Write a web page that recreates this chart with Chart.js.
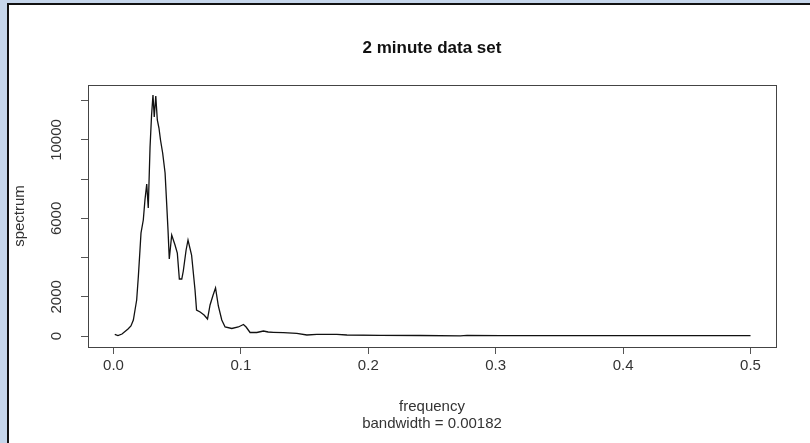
<!DOCTYPE html>
<html>
<head>
<meta charset="utf-8">
<script src="https://cdn.jsdelivr.net/npm/chart.js@4.4.0/dist/chart.umd.min.js"></script>
<style>
html, body { margin: 0; padding: 0; }
body { width: 810px; height: 443px; background: #c6d6eb; overflow: hidden; position: relative; }
#panel { position: absolute; left: 7px; top: 3px; right: 0; bottom: 0; background: #fff; border-left: 2px solid #111; border-top: 2px solid #111; }
#wrap { position: absolute; left: 0; top: 0; width: 810px; height: 443px; }
</style>
</head>
<body>
<div id="panel"></div>
<div id="wrap"><canvas id="spec" width="810" height="443"></canvas></div>
<script>
const freq = [0.001, 0.0035, 0.0067, 0.0114, 0.0137, 0.0156, 0.0169, 0.0182, 0.0195, 0.0208,
    0.0216, 0.0234, 0.0247, 0.0261, 0.0273, 0.0287, 0.0299, 0.0310, 0.0320, 0.0332,
    0.0344, 0.0357, 0.0369, 0.0386, 0.0405, 0.0418, 0.0428, 0.0438, 0.0457, 0.0483,
    0.0501, 0.0517, 0.0536, 0.0548, 0.0570, 0.0585, 0.0613, 0.0640, 0.0652, 0.0680,
    0.0711, 0.0738, 0.0758, 0.0782, 0.0801, 0.0823, 0.0850, 0.0876, 0.0929, 0.0980,
    0.1020, 0.1041, 0.1072, 0.1125, 0.1177, 0.1214, 0.1255, 0.1334, 0.1439, 0.1518,
    0.1596, 0.1753, 0.1832, 0.2094, 0.2408, 0.2722, 0.2775, 0.304, 0.382, 0.461, 0.5];
const spectrum = [80, 25, 100, 357, 510, 816, 1327, 1837, 3025, 4388,
    5255, 5918, 6939, 7755, 6531, 9643, 11275, 12296, 11173, 12245,
    11020, 10612, 10000, 9337, 8316, 6684, 5408, 3929, 5153, 4643,
    4235, 2908, 2908, 3316, 4388, 4898, 4133, 2347, 1327, 1224,
    1071, 867, 1582, 2092, 2449, 1531, 816, 459, 383, 459,
    587, 459, 179, 179, 255, 204, 189, 168, 138, 51,
    87, 87, 51, 36, 26, 10, 36, 20, 15, 15, 15];
const xTicks = [0, 0.1, 0.2, 0.3, 0.4, 0.5];
const xLabels = ['0.0', '0.1', '0.2', '0.3', '0.4', '0.5'];
const yTicks = [0, 2000, 4000, 6000, 8000, 10000, 12000];
const yLabels = ['0', '2000', '', '6000', '', '10000', ''];

const titleText = '2 minute data set';
const xTitle = 'frequency';
const xSub = 'bandwidth = 0.00182';
const yTitle = 'spectrum';

const textColor = '#333';
const fontFamily = '"Liberation Sans", Arial, sans-serif';

// R style box, rotated y labels and titles
const rFrame = {
    id: 'rFrame',
    afterDraw(chart) {
        const ctx = chart.ctx;
        const a = chart.chartArea;
        const y = chart.scales.y;
        ctx.save();
        ctx.strokeStyle = '#444';
        ctx.lineWidth = 1;
        ctx.strokeRect(Math.round(a.left) + 0.5, Math.round(a.top) + 0.5,
            Math.round(a.right - a.left), Math.round(a.bottom - a.top));

        ctx.fillStyle = textColor;
        ctx.font = '15px ' + fontFamily;
        ctx.textAlign = 'center';
        ctx.textBaseline = 'middle';
        yTicks.forEach((v, i) => {
            if (!yLabels[i]) return;
            ctx.save();
            ctx.translate(57, y.getPixelForValue(v));
            ctx.rotate(-Math.PI / 2);
            ctx.fillText(yLabels[i], 0, 0);
            ctx.restore();
        });

        const cx = (a.left + a.right) / 2;
        ctx.save();
        ctx.translate(20, (a.top + a.bottom) / 2);
        ctx.rotate(-Math.PI / 2);
        ctx.fillText(yTitle, 0, 0);
        ctx.restore();

        ctx.fillText(xTitle, cx, 407);
        ctx.fillText(xSub, cx, 424);

        ctx.fillStyle = '#111';
        ctx.font = 'bold 17px ' + fontFamily;
        ctx.fillText(titleText, cx, 48);
        ctx.restore();
    }
};

new Chart(document.getElementById('spec'), {
    type: 'line',
    data: {
        datasets: [{
            data: freq.map((f, i) => ({ x: f, y: spectrum[i] })),
            borderColor: '#111',
            borderWidth: 1.3,
            pointRadius: 0,
            tension: 0,
            fill: false
        }]
    },
    options: {
        responsive: false,
        animation: false,
        devicePixelRatio: 1,
        layout: { padding: { left: 0, top: 85, right: 34, bottom: 0 } },
        plugins: { legend: { display: false }, tooltip: { enabled: false }, title: { display: false } },
        scales: {
            x: {
                type: 'linear',
                position: 'bottom',
                min: -0.02,
                max: 0.52,
                afterBuildTicks: s => { s.ticks = xTicks.map(v => ({ value: v })); },
                afterFit: s => { s.height = 96; },
                border: { display: false },
                grid: { drawOnChartArea: false, drawTicks: true, tickLength: 7, color: '#555' },
                ticks: {
                    color: textColor,
                    font: { family: fontFamily, size: 15 },
                    padding: 3,
                    maxRotation: 0,
                    autoSkip: false,
                    callback: (v, i) => xLabels[i]
                }
            },
            y: {
                type: 'linear',
                min: -561,
                max: 12806,
                afterBuildTicks: s => { s.ticks = yTicks.map(v => ({ value: v })); },
                afterFit: s => { s.width = 88; },
                border: { display: false },
                grid: { drawOnChartArea: false, drawTicks: true, tickLength: 7, color: '#555' },
                ticks: { display: false }
            }
        }
    },
    plugins: [rFrame]
});
</script>
</body>
</html>
